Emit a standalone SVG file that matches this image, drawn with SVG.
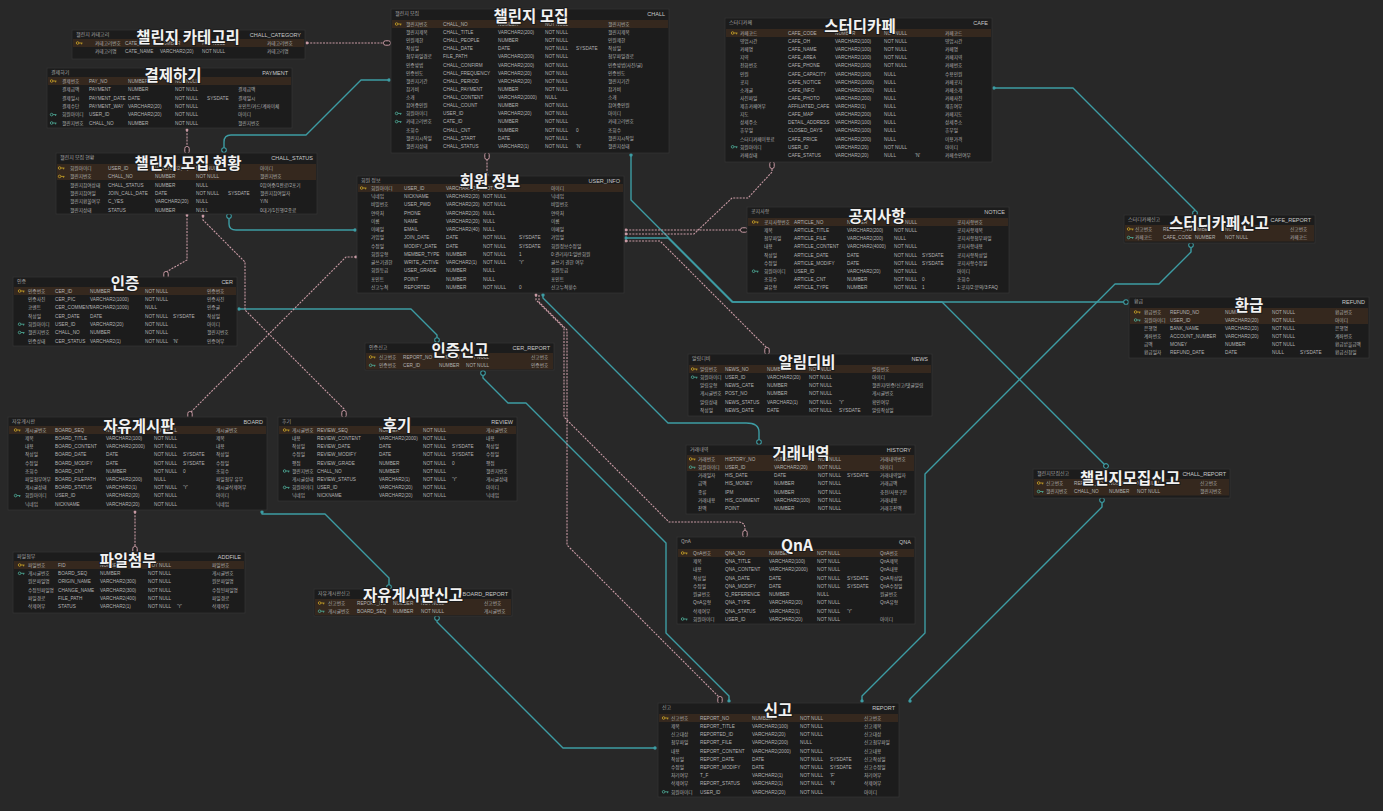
<svg xmlns="http://www.w3.org/2000/svg" xmlns:xlink="http://www.w3.org/1999/xlink" width="1383" height="811" viewBox="0 0 1383 811">
<style>
.tb{fill:#1c1c1c;stroke:#333;stroke-width:.8}
.band{fill:#35281e}
.h{font:5px "Noto Sans CJK KR","Liberation Sans",sans-serif;fill:#a8a8a8}
.hr{font:5.5px "Liberation Sans","Noto Sans CJK KR",sans-serif;fill:#c8c8c8;text-anchor:end}
.r{font:4.7px "Liberation Sans","Noto Sans CJK KR",sans-serif;fill:#b3b3b3}
.ttl{font-family:"Noto Sans CJK KR","Noto Sans",sans-serif;font-size:15.5px;font-weight:bold;fill:#f2f2f2;text-anchor:middle;stroke:#1c1c1c;stroke-width:2.2;paint-order:stroke;stroke-linejoin:round}
.tl{fill:none;stroke:#3d9ca3;stroke-width:1.4;stroke-linejoin:round}
.pl{fill:none;stroke:#c89aa4;stroke-width:1.1;stroke-dasharray:2 1.2}
</style>
<defs>
<marker id="te" markerUnits="userSpaceOnUse" markerWidth="8" markerHeight="8" viewBox="-4 -4 8 8" refX="0" refY="0" orient="auto"><circle r="2.3" fill="#1c1c1c" stroke="#3d9ca3" stroke-width="1.1"/></marker>
<marker id="ts" markerUnits="userSpaceOnUse" markerWidth="6" markerHeight="6" viewBox="-3 -3 6 6" refX="0" refY="0" orient="auto"><circle r="1.7" fill="#3d9ca3"/></marker>
<marker id="pe" markerUnits="userSpaceOnUse" markerWidth="10" markerHeight="8" viewBox="-5 -4 10 8" refX="0" refY="0" orient="auto"><rect x="-3.5" y="-2.2" width="7" height="4.4" rx="2" fill="#1c1c1c" stroke="#c89aa4" stroke-width="1"/></marker>
<marker id="ps" markerUnits="userSpaceOnUse" markerWidth="6" markerHeight="6" viewBox="-3 -3 6 6" refX="0" refY="0" orient="auto"><circle r="1.4" fill="#c89aa4"/></marker>
<g id="pk"><circle cx="1.6" cy="0" r="1.3" fill="none" stroke="#c9a227" stroke-width=".8"/><path d="M2.9 0H6.5M5.6 0V1.4" fill="none" stroke="#c9a227" stroke-width=".8"/></g>
<g id="fk"><circle cx="1.6" cy="0" r="1.3" fill="none" stroke="#4fae9a" stroke-width=".8"/><path d="M2.9 0H6.5M5.6 0V1.4" fill="none" stroke="#4fae9a" stroke-width=".8"/></g>
</defs>
<rect width="1383" height="811" fill="#282828"/>

<g id="connectors">
<path class="tl" marker-start="url(#ts)" marker-end="url(#te)" d="M389,80 H361 L306,135 H231 Q224,135 224,142 V150"/>
<path class="tl" marker-start="url(#te)" marker-end="url(#ts)" d="M229,216 V224 Q229,230 236,230 H355"/>
<path class="tl" marker-start="url(#ts)" marker-end="url(#te)" d="M239,309 H411 L437,335 V340"/>
<path class="tl" marker-start="url(#te)" marker-end="url(#ts)" d="M483,373 V378 L508,403 H526 L666,543 V633 L729,696 V701"/>
<path class="tl" marker-start="url(#ts)" marker-end="url(#te)" d="M543,295 V298 L668,423 H746 Q759,423 759,432 V442"/>
<path class="tl" marker-start="url(#ts)" marker-end="url(#te)" d="M631,155 V200 L733,302 H942 L1106,466"/>
<path class="tl" marker-start="url(#ts)" marker-end="url(#te)" d="M626,238 H668 L732,302 H1126"/>
<path class="tl" marker-start="url(#ts)" marker-end="url(#te)" d="M994,88 H1073 L1195,210 V213"/>
<path class="tl" marker-start="url(#te)" marker-end="url(#ts)" d="M1191,245 V252 L1159,284 H1115 L925,474 V633 L862,696 V701"/>
<path class="tl" marker-start="url(#te)" marker-end="url(#ts)" d="M1102,500 V507 L910,699 V701"/>
<path class="tl" marker-start="url(#ts)" marker-end="url(#te)" d="M262,512 V514 H325 L389,578 V587"/>
<path class="tl" marker-start="url(#te)" marker-end="url(#ts)" d="M437,618 V622 L563,748 H655"/>
<path class="pl" marker-start="url(#ps)" marker-end="url(#pe)" d="M307,43 H387"/>
<path class="pl" marker-start="url(#ps)" marker-end="url(#pe)" d="M187,130 V150"/>
<path class="pl" marker-start="url(#pe)" marker-end="url(#ps)" d="M487,156 V175"/>
<path class="pl" marker-start="url(#ps)" marker-end="url(#pe)" d="M187,215 V260 L166,272 V275"/>
<path class="pl" marker-start="url(#ps)" marker-end="url(#pe)" d="M203,216 V220 L245,262 V310 L344,409 V414"/>
<path class="pl" marker-start="url(#ps)" marker-end="url(#pe)" d="M356,257 H346 L190,413 V415"/>
<path class="pl" marker-start="url(#ps)" marker-end="url(#pe)" d="M135,512 V550"/>
<path class="pl" marker-start="url(#ps)" marker-end="url(#pe)" d="M626,230 H744"/>
<path class="pl" marker-start="url(#ps)" marker-end="url(#pe)" d="M626,234 H694 L732,198 H748 L772,172 V165"/>
<path class="pl" marker-start="url(#ps)" marker-end="url(#pe)" d="M626,241 H660 L767,348 V351"/>
<path class="pl" marker-start="url(#ps)" marker-end="url(#pe)" d="M536,295 V300 L564,328 V417 L669,522 H738 Q745,522 745,529 V534"/>
<path class="pl" marker-end="url(#pe)" d="M539,295 V302 L567,330 V545 L720,698 V700"/>
</g>

<g id="t-chall-category">
<rect class="tb" x="72" y="30" width="233" height="29"/>
<rect class="band" x="73" y="39" width="231" height="8"/>
<text class="h" x="76" y="36">챌린지 카테고리</text>
<text class="hr" x="301" y="36.5">CHALL_CATEGORY</text>
<use href="#pk" x="76" y="43"/>
<text class="r" y="44.8"><tspan x="95">카테고리번호</tspan><tspan x="125">CATE_ID</tspan><tspan x="160">NUMBER</tspan><tspan x="202">NOT NULL</tspan><tspan x="267">카테고리번호</tspan></text>
<text class="r" y="53.3"><tspan x="95">카테고리명</tspan><tspan x="125">CATE_NAME</tspan><tspan x="160">VARCHAR2(20)</tspan><tspan x="202">NOT NULL</tspan><tspan x="267">카테고리명</tspan></text>
<text class="ttl" x="188" y="42.5">챌린지 카테고리</text>
</g>

<g id="t-payment">
<rect class="tb" x="47" y="68" width="245" height="60"/>
<rect class="band" x="48" y="77" width="243" height="8"/>
<text class="h" x="51" y="74">결제하기</text>
<text class="hr" x="288" y="74.5">PAYMENT</text>
<use href="#pk" x="50" y="81"/><use href="#fk" x="50" y="114.6"/><use href="#fk" x="50" y="123"/>
<text class="r" y="82.8"><tspan x="62">결제번호</tspan><tspan x="89">PAY_NO</tspan><tspan x="128">NUMBER</tspan><tspan x="175">NOT NULL</tspan></text>
<text class="r" y="91.2"><tspan x="62">결제금액</tspan><tspan x="89">PAYMENT</tspan><tspan x="128">NUMBER</tspan><tspan x="175">NOT NULL</tspan><tspan x="238">결제금액</tspan></text>
<text class="r" y="99.6"><tspan x="62">결제일시</tspan><tspan x="89">PAYMENT_DATE</tspan><tspan x="128">DATE</tspan><tspan x="175">NOT NULL</tspan><tspan x="207">SYSDATE</tspan><tspan x="238">결제일시</tspan></text>
<text class="r" y="108"><tspan x="62">결제수단</tspan><tspan x="89">PAYMENT_WAY</tspan><tspan x="128">VARCHAR2(20)</tspan><tspan x="175">NOT NULL</tspan><tspan x="238">포인트/카드/계좌이체</tspan></text>
<text class="r" y="116.4"><tspan x="62">회원아이디</tspan><tspan x="89">USER_ID</tspan><tspan x="128">VARCHAR2(20)</tspan><tspan x="175">NOT NULL</tspan><tspan x="238">아이디</tspan></text>
<text class="r" y="124.8"><tspan x="62">챌린지번호</tspan><tspan x="89">CHALL_NO</tspan><tspan x="128">NUMBER</tspan><tspan x="175">NOT NULL</tspan><tspan x="238">챌린지번호</tspan></text>
<text class="ttl" x="173" y="80.5">결제하기</text>
</g>

<g id="t-chall-status">
<rect class="tb" x="56" y="153" width="261" height="61"/>
<rect class="band" x="57" y="164" width="259" height="16"/>
<text class="h" x="60" y="159">챌린지 모집 현황</text>
<text class="hr" x="313" y="159.5">CHALL_STATUS</text>
<use href="#pk" x="58" y="168"/><use href="#pk" x="58" y="176.4"/>
<text class="r" y="169.8"><tspan x="70">회원아이디</tspan><tspan x="108">USER_ID</tspan><tspan x="155">VARCHAR2(20)</tspan><tspan x="196">NOT NULL</tspan><tspan x="260">아이디</tspan></text>
<text class="r" y="178.2"><tspan x="70">챌린지번호</tspan><tspan x="108">CHALL_NO</tspan><tspan x="155">NUMBER</tspan><tspan x="196">NOT NULL</tspan><tspan x="260">챌린지번호</tspan></text>
<text class="r" y="186.6"><tspan x="70">챌린지참여상태</tspan><tspan x="108">CHALL_STATUS</tspan><tspan x="155">NUMBER</tspan><tspan x="196">NULL</tspan><tspan x="260">0참여중/1완료/2포기</tspan></text>
<text class="r" y="195"><tspan x="70">챌린지참여일</tspan><tspan x="108">JOIN_CALL_DATE</tspan><tspan x="155">DATE</tspan><tspan x="196">NOT NULL</tspan><tspan x="228">SYSDATE</tspan><tspan x="260">챌린지참여일자</tspan></text>
<text class="r" y="203.4"><tspan x="70">챌린지환불여부</tspan><tspan x="108">C_YES</tspan><tspan x="155">VARCHAR2(20)</tspan><tspan x="196">NULL</tspan><tspan x="260">Y/N</tspan></text>
<text class="r" y="211.8"><tspan x="70">챌린지상태</tspan><tspan x="108">STATUS</tspan><tspan x="155">NUMBER</tspan><tspan x="196">NULL</tspan><tspan x="260">0대기/1진행/2종료</tspan></text>
<text class="ttl" x="188" y="168.5">챌린지 모집 현황</text>
</g>

<g id="t-chall">
<rect class="tb" x="391" y="9" width="278" height="144"/>
<rect class="band" x="392" y="20" width="276" height="8"/>
<text class="h" x="395" y="15">챌린지 모집</text>
<text class="hr" x="665" y="15.5">CHALL</text>
<use href="#pk" x="395" y="24"/><use href="#fk" x="395" y="113.4"/><use href="#fk" x="395" y="121.6"/>
<text class="r" y="25.8"><tspan x="406">챌린지번호</tspan><tspan x="443">CHALL_NO</tspan><tspan x="498">NUMBER</tspan><tspan x="545">NOT NULL</tspan><tspan x="608">챌린지번호</tspan></text>
<text class="r" y="33.9"><tspan x="406">챌린지제목</tspan><tspan x="443">CHALL_TITLE</tspan><tspan x="498">VARCHAR2(200)</tspan><tspan x="545">NOT NULL</tspan><tspan x="608">챌린지제목</tspan></text>
<text class="r" y="42.1"><tspan x="406">인원제한</tspan><tspan x="443">CHALL_PEOPLE</tspan><tspan x="498">NUMBER</tspan><tspan x="545">NOT NULL</tspan><tspan x="608">인원제한</tspan></text>
<text class="r" y="50.2"><tspan x="406">작성일</tspan><tspan x="443">CHALL_DATE</tspan><tspan x="498">DATE</tspan><tspan x="545">NOT NULL</tspan><tspan x="576">SYSDATE</tspan><tspan x="608">작성일</tspan></text>
<text class="r" y="58.3"><tspan x="406">첨부파일경로</tspan><tspan x="443">FILE_PATH</tspan><tspan x="498">VARCHAR2(200)</tspan><tspan x="545">NOT NULL</tspan><tspan x="608">첨부파일경로</tspan></text>
<text class="r" y="66.5"><tspan x="406">인증방법</tspan><tspan x="443">CHALL_CONFIRM</tspan><tspan x="498">VARCHAR2(200)</tspan><tspan x="545">NOT NULL</tspan><tspan x="608">인증방법(사진/글)</tspan></text>
<text class="r" y="74.6"><tspan x="406">인증빈도</tspan><tspan x="443">CHALL_FREQUENCY</tspan><tspan x="498">VARCHAR2(20)</tspan><tspan x="545">NOT NULL</tspan><tspan x="608">인증빈도</tspan></text>
<text class="r" y="82.7"><tspan x="406">챌린지기간</tspan><tspan x="443">CHALL_PERIOD</tspan><tspan x="498">VARCHAR2(20)</tspan><tspan x="545">NOT NULL</tspan><tspan x="608">챌린지기간</tspan></text>
<text class="r" y="90.8"><tspan x="406">참가비</tspan><tspan x="443">CHALL_PAYMENT</tspan><tspan x="498">NUMBER</tspan><tspan x="545">NOT NULL</tspan><tspan x="608">참가비</tspan></text>
<text class="r" y="99"><tspan x="406">소개</tspan><tspan x="443">CHALL_CONTENT</tspan><tspan x="498">VARCHAR2(2000)</tspan><tspan x="545">NULL</tspan><tspan x="608">소개</tspan></text>
<text class="r" y="107.1"><tspan x="406">참여중인원</tspan><tspan x="443">CHALL_COUNT</tspan><tspan x="498">NUMBER</tspan><tspan x="545">NOT NULL</tspan><tspan x="608">참여중인원</tspan></text>
<text class="r" y="115.2"><tspan x="406">회원아이디</tspan><tspan x="443">USER_ID</tspan><tspan x="498">VARCHAR2(20)</tspan><tspan x="545">NOT NULL</tspan><tspan x="608">아이디</tspan></text>
<text class="r" y="123.4"><tspan x="406">카테고리번호</tspan><tspan x="443">CATE_ID</tspan><tspan x="498">NUMBER</tspan><tspan x="545">NOT NULL</tspan><tspan x="608">카테고리번호</tspan></text>
<text class="r" y="131.5"><tspan x="406">조회수</tspan><tspan x="443">CHALL_CNT</tspan><tspan x="498">NUMBER</tspan><tspan x="545">NOT NULL</tspan><tspan x="576">0</tspan><tspan x="608">조회수</tspan></text>
<text class="r" y="139.6"><tspan x="406">챌린지시작일</tspan><tspan x="443">CHALL_START</tspan><tspan x="498">DATE</tspan><tspan x="545">NOT NULL</tspan><tspan x="608">챌린지시작일</tspan></text>
<text class="r" y="147.8"><tspan x="406">챌린지상태</tspan><tspan x="443">CHALL_STATUS</tspan><tspan x="498">VARCHAR2(1)</tspan><tspan x="545">NOT NULL</tspan><tspan x="576">'N'</tspan><tspan x="608">챌린지상태</tspan></text>
<text class="ttl" x="531" y="21.5">챌린지 모집</text>
</g>

<g id="t-user-info">
<rect class="tb" x="357" y="176" width="267" height="117"/>
<rect class="band" x="358" y="184" width="265" height="8"/>
<text class="h" x="361" y="182">회원 정보</text>
<text class="hr" x="620" y="182.5">USER_INFO</text>
<use href="#pk" x="360" y="188"/>
<text class="r" y="189.8"><tspan x="371">회원아이디</tspan><tspan x="404">USER_ID</tspan><tspan x="446">VARCHAR2(20)</tspan><tspan x="483">NOT NULL</tspan><tspan x="551">아이디</tspan></text>
<text class="r" y="198.05"><tspan x="371">닉네임</tspan><tspan x="404">NICKNAME</tspan><tspan x="446">VARCHAR2(20)</tspan><tspan x="483">NOT NULL</tspan><tspan x="551">닉네임</tspan></text>
<text class="r" y="206.3"><tspan x="371">비밀번호</tspan><tspan x="404">USER_PWD</tspan><tspan x="446">VARCHAR2(20)</tspan><tspan x="483">NOT NULL</tspan><tspan x="551">비밀번호</tspan></text>
<text class="r" y="214.55"><tspan x="371">연락처</tspan><tspan x="404">PHONE</tspan><tspan x="446">VARCHAR2(20)</tspan><tspan x="483">NULL</tspan><tspan x="551">연락처</tspan></text>
<text class="r" y="222.8"><tspan x="371">이름</tspan><tspan x="404">NAME</tspan><tspan x="446">VARCHAR2(20)</tspan><tspan x="483">NULL</tspan><tspan x="551">이름</tspan></text>
<text class="r" y="231.05"><tspan x="371">이메일</tspan><tspan x="404">EMAIL</tspan><tspan x="446">VARCHAR2(40)</tspan><tspan x="483">NULL</tspan><tspan x="551">이메일</tspan></text>
<text class="r" y="239.3"><tspan x="371">가입일</tspan><tspan x="404">JOIN_DATE</tspan><tspan x="446">DATE</tspan><tspan x="483">NOT NULL</tspan><tspan x="519">SYSDATE</tspan><tspan x="551">가입일</tspan></text>
<text class="r" y="247.55"><tspan x="371">수정일</tspan><tspan x="404">MODIFY_DATE</tspan><tspan x="446">DATE</tspan><tspan x="483">NOT NULL</tspan><tspan x="519">SYSDATE</tspan><tspan x="551">회원정보수정일</tspan></text>
<text class="r" y="255.8"><tspan x="371">회원유형</tspan><tspan x="404">MEMBER_TYPE</tspan><tspan x="446">NUMBER</tspan><tspan x="483">NOT NULL</tspan><tspan x="519">1</tspan><tspan x="551">0:관리자/1:일반회원</tspan></text>
<text class="r" y="264.05"><tspan x="371">글쓰기권한</tspan><tspan x="404">WRITE_ACTIVE</tspan><tspan x="446">VARCHAR2(1)</tspan><tspan x="483">NOT NULL</tspan><tspan x="519">'Y'</tspan><tspan x="551">글쓰기 권한 여부</tspan></text>
<text class="r" y="272.3"><tspan x="371">회원등급</tspan><tspan x="404">USER_GRADE</tspan><tspan x="446">NUMBER</tspan><tspan x="483">NULL</tspan><tspan x="551">회원등급</tspan></text>
<text class="r" y="280.55"><tspan x="371">포인트</tspan><tspan x="404">POINT</tspan><tspan x="446">NUMBER</tspan><tspan x="483">NULL</tspan><tspan x="551">포인트</tspan></text>
<text class="r" y="288.8"><tspan x="371">신고누적</tspan><tspan x="404">REPORTED</tspan><tspan x="446">NUMBER</tspan><tspan x="483">NOT NULL</tspan><tspan x="519">0</tspan><tspan x="551">신고누적횟수</tspan></text>
<text class="ttl" x="490" y="186.5">회원 정보</text>
</g>

<g id="t-cafe">
<rect class="tb" x="725" y="18" width="267" height="144"/>
<rect class="band" x="726" y="29" width="265" height="8"/>
<text class="h" x="729" y="24">스터디카페</text>
<text class="hr" x="988" y="24.5">CAFE</text>
<use href="#pk" x="731" y="33"/><use href="#fk" x="731" y="146.8"/>
<text class="r" y="34.8"><tspan x="740">카페코드</tspan><tspan x="788">CAFE_CODE</tspan><tspan x="835">NUMBER</tspan><tspan x="884">NOT NULL</tspan><tspan x="945">카페코드</tspan></text>
<text class="r" y="42.9"><tspan x="740">영업시간</tspan><tspan x="788">CAFE_OH</tspan><tspan x="835">VARCHAR2(100)</tspan><tspan x="884">NOT NULL</tspan><tspan x="945">영업시간</tspan></text>
<text class="r" y="51.1"><tspan x="740">카페명</tspan><tspan x="788">CAFE_NAME</tspan><tspan x="835">VARCHAR2(100)</tspan><tspan x="884">NOT NULL</tspan><tspan x="945">카페명</tspan></text>
<text class="r" y="59.2"><tspan x="740">지역</tspan><tspan x="788">CAFE_AREA</tspan><tspan x="835">VARCHAR2(100)</tspan><tspan x="884">NOT NULL</tspan><tspan x="945">카페지역</tspan></text>
<text class="r" y="67.3"><tspan x="740">전화번호</tspan><tspan x="788">CAFE_PHONE</tspan><tspan x="835">VARCHAR2(100)</tspan><tspan x="884">NOT NULL</tspan><tspan x="945">카페번호</tspan></text>
<text class="r" y="75.5"><tspan x="740">인원</tspan><tspan x="788">CAFE_CAPACITY</tspan><tspan x="835">VARCHAR2(100)</tspan><tspan x="884">NULL</tspan><tspan x="945">수용인원</tspan></text>
<text class="r" y="83.6"><tspan x="740">공지</tspan><tspan x="788">CAFE_NOTICE</tspan><tspan x="835">VARCHAR2(1000)</tspan><tspan x="884">NULL</tspan><tspan x="945">카페공지</tspan></text>
<text class="r" y="91.7"><tspan x="740">소개글</tspan><tspan x="788">CAFE_INFO</tspan><tspan x="835">VARCHAR2(1000)</tspan><tspan x="884">NULL</tspan><tspan x="945">카페소개</tspan></text>
<text class="r" y="99.8"><tspan x="740">사진파일</tspan><tspan x="788">CAFE_PHOTO</tspan><tspan x="835">VARCHAR2(200)</tspan><tspan x="884">NULL</tspan><tspan x="945">카페사진</tspan></text>
<text class="r" y="108"><tspan x="740">제휴카페여부</tspan><tspan x="788">AFFILIATED_CAFE</tspan><tspan x="835">VARCHAR2(1)</tspan><tspan x="884">NULL</tspan><tspan x="945">제휴여부</tspan></text>
<text class="r" y="116.1"><tspan x="740">지도</tspan><tspan x="788">CAFE_MAP</tspan><tspan x="835">VARCHAR2(200)</tspan><tspan x="884">NULL</tspan><tspan x="945">카페지도</tspan></text>
<text class="r" y="124.2"><tspan x="740">상세주소</tspan><tspan x="788">DETAIL_ADDRESS</tspan><tspan x="835">VARCHAR2(100)</tspan><tspan x="884">NULL</tspan><tspan x="945">상세주소</tspan></text>
<text class="r" y="132.4"><tspan x="740">휴무일</tspan><tspan x="788">CLOSED_DAYS</tspan><tspan x="835">VARCHAR2(100)</tspan><tspan x="884">NULL</tspan><tspan x="945">휴무일</tspan></text>
<text class="r" y="140.5"><tspan x="740">스터디카페이용료</tspan><tspan x="788">CAFE_PRICE</tspan><tspan x="835">VARCHAR2(200)</tspan><tspan x="884">NULL</tspan><tspan x="945">이용가격</tspan></text>
<text class="r" y="148.6"><tspan x="740">회원아이디</tspan><tspan x="788">USER_ID</tspan><tspan x="835">VARCHAR2(20)</tspan><tspan x="884">NOT NULL</tspan><tspan x="945">아이디</tspan></text>
<text class="r" y="156.8"><tspan x="740">카페상태</tspan><tspan x="788">CAFE_STATUS</tspan><tspan x="835">VARCHAR2(20)</tspan><tspan x="884">NULL</tspan><tspan x="915">'N'</tspan><tspan x="945">카페승인여부</tspan></text>
<text class="ttl" x="860" y="31.5">스터디카페</text>
</g>

<g id="t-notice">
<rect class="tb" x="747" y="207" width="262" height="86"/>
<rect class="band" x="748" y="218" width="260" height="8"/>
<text class="h" x="751" y="213">공지사항</text>
<text class="hr" x="1005" y="213.5">NOTICE</text>
<use href="#pk" x="752" y="222"/><use href="#fk" x="752" y="271.2"/>
<text class="r" y="223.8"><tspan x="764">공지사항번호</tspan><tspan x="794">ARTICLE_NO</tspan><tspan x="847">NUMBER</tspan><tspan x="894">NOT NULL</tspan><tspan x="957">공지사항번호</tspan></text>
<text class="r" y="232"><tspan x="764">제목</tspan><tspan x="794">ARTICLE_TITLE</tspan><tspan x="847">VARCHAR2(200)</tspan><tspan x="894">NOT NULL</tspan><tspan x="957">공지사항제목</tspan></text>
<text class="r" y="240.2"><tspan x="764">첨부파일</tspan><tspan x="794">ARTICLE_FILE</tspan><tspan x="847">VARCHAR2(200)</tspan><tspan x="894">NULL</tspan><tspan x="957">공지사항첨부파일</tspan></text>
<text class="r" y="248.4"><tspan x="764">내용</tspan><tspan x="794">ARTICLE_CONTENT</tspan><tspan x="847">VARCHAR2(4000)</tspan><tspan x="894">NOT NULL</tspan><tspan x="957">공지사항내용</tspan></text>
<text class="r" y="256.6"><tspan x="764">작성일</tspan><tspan x="794">ARTICLE_DATE</tspan><tspan x="847">DATE</tspan><tspan x="894">NOT NULL</tspan><tspan x="922">SYSDATE</tspan><tspan x="957">공지사항작성일</tspan></text>
<text class="r" y="264.8"><tspan x="764">수정일</tspan><tspan x="794">ARTICLE_MODIFY</tspan><tspan x="847">DATE</tspan><tspan x="894">NOT NULL</tspan><tspan x="922">SYSDATE</tspan><tspan x="957">공지사항수정일</tspan></text>
<text class="r" y="273"><tspan x="764">회원아이디</tspan><tspan x="794">USER_ID</tspan><tspan x="847">VARCHAR2(20)</tspan><tspan x="894">NOT NULL</tspan><tspan x="957">아이디</tspan></text>
<text class="r" y="281.2"><tspan x="764">조회수</tspan><tspan x="794">ARTICLE_CNT</tspan><tspan x="847">NUMBER</tspan><tspan x="894">NOT NULL</tspan><tspan x="922">0</tspan><tspan x="957">조회수</tspan></text>
<text class="r" y="289.4"><tspan x="764">글유형</tspan><tspan x="794">ARTICLE_TYPE</tspan><tspan x="847">NUMBER</tspan><tspan x="894">NOT NULL</tspan><tspan x="922">1</tspan><tspan x="957">1:공지/2:문의/3:FAQ</tspan></text>
<text class="ttl" x="877" y="221.5">공지사항</text>
</g>

<g id="t-cafe-report">
<rect class="tb" x="1124" y="215" width="191" height="28"/>
<rect class="band" x="1125" y="225" width="189" height="16.5"/>
<text class="h" x="1128" y="221">스터디카페신고</text>
<text class="hr" x="1311" y="221.5">CAFE_REPORT</text>
<use href="#pk" x="1127" y="229"/><use href="#fk" x="1127" y="237.5"/>
<text class="r" y="230.8"><tspan x="1135">신고번호</tspan><tspan x="1163">REPORT_NO</tspan><tspan x="1191">NUMBER</tspan><tspan x="1225">NOT NULL</tspan><tspan x="1290">신고번호</tspan></text>
<text class="r" y="239.3"><tspan x="1135">카페코드</tspan><tspan x="1163">CAFE_CODE</tspan><tspan x="1195">NUMBER</tspan><tspan x="1225">NOT NULL</tspan><tspan x="1290">카페코드</tspan></text>
<text class="ttl" x="1219" y="228.5">스터디카페신고</text>
</g>

<g id="t-refund">
<rect class="tb" x="1129" y="297" width="240" height="61"/>
<rect class="band" x="1130" y="308" width="238" height="16"/>
<text class="h" x="1134" y="303">환급</text>
<text class="hr" x="1365" y="303.5">REFUND</text>
<use href="#pk" x="1134" y="312"/><use href="#fk" x="1134" y="320"/>
<text class="r" y="313.8"><tspan x="1144">환급번호</tspan><tspan x="1170">REFUND_NO</tspan><tspan x="1225">NUMBER</tspan><tspan x="1272">NOT NULL</tspan><tspan x="1335">환급번호</tspan></text>
<text class="r" y="321.8"><tspan x="1144">회원아이디</tspan><tspan x="1170">USER_ID</tspan><tspan x="1225">VARCHAR2(20)</tspan><tspan x="1272">NOT NULL</tspan><tspan x="1335">아이디</tspan></text>
<text class="r" y="329.8"><tspan x="1144">은행명</tspan><tspan x="1170">BANK_NAME</tspan><tspan x="1225">VARCHAR2(20)</tspan><tspan x="1272">NOT NULL</tspan><tspan x="1335">은행명</tspan></text>
<text class="r" y="337.8"><tspan x="1144">계좌번호</tspan><tspan x="1170">ACCOUNT_NUMBER</tspan><tspan x="1225">VARCHAR2(20)</tspan><tspan x="1272">NOT NULL</tspan><tspan x="1335">계좌번호</tspan></text>
<text class="r" y="345.8"><tspan x="1144">금액</tspan><tspan x="1170">MONEY</tspan><tspan x="1225">NUMBER</tspan><tspan x="1272">NOT NULL</tspan><tspan x="1335">환급받을금액</tspan></text>
<text class="r" y="353.8"><tspan x="1144">환급일자</tspan><tspan x="1170">REFUND_DATE</tspan><tspan x="1225">DATE</tspan><tspan x="1272">NULL</tspan><tspan x="1300">SYSDATE</tspan><tspan x="1335">환급신청일</tspan></text>
<text class="ttl" x="1249" y="310.5">환급</text>
</g>

<g id="t-cer">
<rect class="tb" x="13" y="277" width="224" height="69"/>
<rect class="band" x="14" y="287" width="222" height="8"/>
<text class="h" x="17" y="283">인증</text>
<text class="hr" x="233" y="283.5">CER</text>
<use href="#pk" x="18" y="291"/><use href="#fk" x="18" y="324.2"/><use href="#fk" x="18" y="332.5"/>
<text class="r" y="292.8"><tspan x="28">인증번호</tspan><tspan x="55">CER_ID</tspan><tspan x="90">NUMBER</tspan><tspan x="145">NOT NULL</tspan><tspan x="207">인증번호</tspan></text>
<text class="r" y="301.1"><tspan x="28">인증사진</tspan><tspan x="55">CER_PIC</tspan><tspan x="90">VARCHAR2(1000)</tspan><tspan x="145">NOT NULL</tspan><tspan x="207">인증사진</tspan></text>
<text class="r" y="309.4"><tspan x="28">코멘트</tspan><tspan x="55">CER_COMMENT</tspan><tspan x="90">VARCHAR2(1000)</tspan><tspan x="145">NULL</tspan><tspan x="207">인증글</tspan></text>
<text class="r" y="317.7"><tspan x="28">작성일</tspan><tspan x="55">CER_DATE</tspan><tspan x="90">DATE</tspan><tspan x="145">NOT NULL</tspan><tspan x="173">SYSDATE</tspan><tspan x="207">작성일</tspan></text>
<text class="r" y="326"><tspan x="28">회원아이디</tspan><tspan x="55">USER_ID</tspan><tspan x="90">VARCHAR2(20)</tspan><tspan x="145">NOT NULL</tspan><tspan x="207">아이디</tspan></text>
<text class="r" y="334.3"><tspan x="28">챌린지번호</tspan><tspan x="55">CHALL_NO</tspan><tspan x="90">NUMBER</tspan><tspan x="145">NOT NULL</tspan><tspan x="207">챌린지번호</tspan></text>
<text class="r" y="342.6"><tspan x="28">인증상태</tspan><tspan x="55">CER_STATUS</tspan><tspan x="90">VARCHAR2(1)</tspan><tspan x="145">NOT NULL</tspan><tspan x="173">'N'</tspan><tspan x="207">인증여부</tspan></text>
<text class="ttl" x="125" y="288.5">인증</text>
</g>

<g id="t-board">
<rect class="tb" x="8" y="417" width="259" height="93"/>
<rect class="band" x="9" y="426" width="257" height="8"/>
<text class="h" x="12" y="423">자유게시판</text>
<text class="hr" x="263" y="423.5">BOARD</text>
<use href="#pk" x="14" y="430"/><use href="#fk" x="14" y="495.6"/>
<text class="r" y="431.8"><tspan x="25">게시글번호</tspan><tspan x="55">BOARD_SEQ</tspan><tspan x="106">NUMBER</tspan><tspan x="154">NOT NULL</tspan><tspan x="216">게시글번호</tspan></text>
<text class="r" y="440"><tspan x="25">제목</tspan><tspan x="55">BOARD_TITLE</tspan><tspan x="106">VARCHAR2(100)</tspan><tspan x="154">NOT NULL</tspan><tspan x="216">제목</tspan></text>
<text class="r" y="448.2"><tspan x="25">내용</tspan><tspan x="55">BOARD_CONTENT</tspan><tspan x="106">VARCHAR2(2000)</tspan><tspan x="154">NOT NULL</tspan><tspan x="216">내용</tspan></text>
<text class="r" y="456.4"><tspan x="25">작성일</tspan><tspan x="55">BOARD_DATE</tspan><tspan x="106">DATE</tspan><tspan x="154">NOT NULL</tspan><tspan x="183">SYSDATE</tspan><tspan x="216">작성일</tspan></text>
<text class="r" y="464.6"><tspan x="25">수정일</tspan><tspan x="55">BOARD_MODIFY</tspan><tspan x="106">DATE</tspan><tspan x="154">NOT NULL</tspan><tspan x="183">SYSDATE</tspan><tspan x="216">수정일</tspan></text>
<text class="r" y="472.8"><tspan x="25">조회수</tspan><tspan x="55">BOARD_CNT</tspan><tspan x="106">NUMBER</tspan><tspan x="154">NOT NULL</tspan><tspan x="183">0</tspan><tspan x="216">조회수</tspan></text>
<text class="r" y="481"><tspan x="25">파일첨부여부</tspan><tspan x="55">BOARD_FILEPATH</tspan><tspan x="106">VARCHAR2(200)</tspan><tspan x="154">NULL</tspan><tspan x="216">파일첨부 유무</tspan></text>
<text class="r" y="489.2"><tspan x="25">게시글상태</tspan><tspan x="55">BOARD_STATUS</tspan><tspan x="106">VARCHAR2(1)</tspan><tspan x="154">NOT NULL</tspan><tspan x="183">'Y'</tspan><tspan x="216">게시글삭제여부</tspan></text>
<text class="r" y="497.4"><tspan x="25">회원아이디</tspan><tspan x="55">USER_ID</tspan><tspan x="106">VARCHAR2(20)</tspan><tspan x="154">NOT NULL</tspan><tspan x="216">아이디</tspan></text>
<text class="r" y="505.6"><tspan x="25">닉네임</tspan><tspan x="55">NICKNAME</tspan><tspan x="106">VARCHAR2(20)</tspan><tspan x="154">NOT NULL</tspan><tspan x="216">닉네임</tspan></text>
<text class="ttl" x="139" y="431.5">자유게시판</text>
</g>

<g id="t-review">
<rect class="tb" x="278" y="417" width="239" height="84"/>
<rect class="band" x="279" y="426" width="237" height="8"/>
<text class="h" x="282" y="423">후기</text>
<text class="hr" x="513" y="423.5">REVIEW</text>
<use href="#pk" x="283" y="430"/><use href="#fk" x="283" y="471"/><use href="#fk" x="283" y="487.4"/>
<text class="r" y="431.8"><tspan x="292">게시글번호</tspan><tspan x="317">REVIEW_SEQ</tspan><tspan x="379">NUMBER</tspan><tspan x="423">NOT NULL</tspan><tspan x="486">게시글번호</tspan></text>
<text class="r" y="440"><tspan x="292">내용</tspan><tspan x="317">REVIEW_CONTENT</tspan><tspan x="379">VARCHAR2(2000)</tspan><tspan x="423">NOT NULL</tspan><tspan x="486">내용</tspan></text>
<text class="r" y="448.2"><tspan x="292">작성일</tspan><tspan x="317">REVIEW_DATE</tspan><tspan x="379">DATE</tspan><tspan x="423">NOT NULL</tspan><tspan x="452">SYSDATE</tspan><tspan x="486">작성일</tspan></text>
<text class="r" y="456.4"><tspan x="292">수정일</tspan><tspan x="317">REVIEW_MODIFY</tspan><tspan x="379">DATE</tspan><tspan x="423">NOT NULL</tspan><tspan x="452">SYSDATE</tspan><tspan x="486">수정일</tspan></text>
<text class="r" y="464.6"><tspan x="292">평점</tspan><tspan x="317">REVIEW_GRADE</tspan><tspan x="379">NUMBER</tspan><tspan x="423">NOT NULL</tspan><tspan x="452">0</tspan><tspan x="486">평점</tspan></text>
<text class="r" y="472.8"><tspan x="292">챌린지번호</tspan><tspan x="317">CHALL_NO</tspan><tspan x="379">NUMBER</tspan><tspan x="423">NOT NULL</tspan><tspan x="486">챌린지번호</tspan></text>
<text class="r" y="481"><tspan x="292">게시글상태</tspan><tspan x="317">REVIEW_STATUS</tspan><tspan x="379">VARCHAR2(1)</tspan><tspan x="423">NOT NULL</tspan><tspan x="452">'Y'</tspan><tspan x="486">게시글상태</tspan></text>
<text class="r" y="489.2"><tspan x="292">회원아이디</tspan><tspan x="317">USER_ID</tspan><tspan x="379">VARCHAR2(20)</tspan><tspan x="423">NOT NULL</tspan><tspan x="486">아이디</tspan></text>
<text class="r" y="497.4"><tspan x="292">닉네임</tspan><tspan x="317">NICKNAME</tspan><tspan x="379">VARCHAR2(20)</tspan><tspan x="423">NOT NULL</tspan><tspan x="486">닉네임</tspan></text>
<text class="ttl" x="397" y="430.5">후기</text>
</g>

<g id="t-cer-report">
<rect class="tb" x="365" y="343" width="189" height="27"/>
<rect class="band" x="366" y="353" width="187" height="16.3"/>
<text class="h" x="369" y="349">인증신고</text>
<text class="hr" x="550" y="349.5">CER_REPORT</text>
<use href="#pk" x="369" y="357"/><use href="#fk" x="369" y="365.3"/>
<text class="r" y="358.8"><tspan x="379">신고번호</tspan><tspan x="403">REPORT_NO</tspan><tspan x="439">NUMBER</tspan><tspan x="466">NOT NULL</tspan><tspan x="531">신고번호</tspan></text>
<text class="r" y="367.1"><tspan x="379">인증번호</tspan><tspan x="403">CER_ID</tspan><tspan x="439">NUMBER</tspan><tspan x="466">NOT NULL</tspan><tspan x="531">인증번호</tspan></text>
<text class="ttl" x="460" y="355.5">인증신고</text>
</g>

<g id="t-news">
<rect class="tb" x="688" y="354" width="244" height="62"/>
<rect class="band" x="689" y="365" width="242" height="8"/>
<text class="h" x="692" y="360">알림디비</text>
<text class="hr" x="928" y="360.5">NEWS</text>
<use href="#pk" x="691" y="369"/><use href="#fk" x="691" y="377.2"/>
<text class="r" y="370.8"><tspan x="700">알림번호</tspan><tspan x="725">NEWS_NO</tspan><tspan x="767">NUMBER</tspan><tspan x="809">NOT NULL</tspan><tspan x="872">알림번호</tspan></text>
<text class="r" y="379"><tspan x="700">회원아이디</tspan><tspan x="725">USER_ID</tspan><tspan x="767">VARCHAR2(20)</tspan><tspan x="809">NOT NULL</tspan><tspan x="872">아이디</tspan></text>
<text class="r" y="387.2"><tspan x="700">알림유형</tspan><tspan x="725">NEWS_CATE</tspan><tspan x="767">NUMBER</tspan><tspan x="809">NOT NULL</tspan><tspan x="872">챌린지/인증/신고/댓글알림</tspan></text>
<text class="r" y="395.4"><tspan x="700">게시글번호</tspan><tspan x="725">POST_NO</tspan><tspan x="767">NUMBER</tspan><tspan x="809">NOT NULL</tspan><tspan x="872">게시글번호</tspan></text>
<text class="r" y="403.6"><tspan x="700">알림상태</tspan><tspan x="725">NEWS_STATUS</tspan><tspan x="767">VARCHAR2(1)</tspan><tspan x="809">NOT NULL</tspan><tspan x="839">'Y'</tspan><tspan x="872">확인여부</tspan></text>
<text class="r" y="411.8"><tspan x="700">작성일</tspan><tspan x="725">NEWS_DATE</tspan><tspan x="767">DATE</tspan><tspan x="809">NOT NULL</tspan><tspan x="839">SYSDATE</tspan><tspan x="872">알림작성일</tspan></text>
<text class="ttl" x="807" y="367.5">알림디비</text>
</g>

<g id="t-history">
<rect class="tb" x="686" y="445" width="229" height="69"/>
<rect class="band" x="687" y="455" width="227" height="16"/>
<text class="h" x="690" y="451">거래내역</text>
<text class="hr" x="911" y="451.5">HISTORY</text>
<use href="#pk" x="689" y="459"/><use href="#fk" x="689" y="467.2"/>
<text class="r" y="460.8"><tspan x="698">거래번호</tspan><tspan x="725">HISTORY_NO</tspan><tspan x="774">NUMBER</tspan><tspan x="818">NOT NULL</tspan><tspan x="880">거래내역번호</tspan></text>
<text class="r" y="469"><tspan x="698">회원아이디</tspan><tspan x="725">USER_ID</tspan><tspan x="774">VARCHAR2(20)</tspan><tspan x="818">NOT NULL</tspan><tspan x="880">아이디</tspan></text>
<text class="r" y="477.2"><tspan x="698">거래일자</tspan><tspan x="725">HIS_DATE</tspan><tspan x="774">DATE</tspan><tspan x="818">NOT NULL</tspan><tspan x="847">SYSDATE</tspan><tspan x="880">거래내역일자</tspan></text>
<text class="r" y="485.4"><tspan x="698">금액</tspan><tspan x="725">HIS_MONEY</tspan><tspan x="774">NUMBER</tspan><tspan x="818">NOT NULL</tspan><tspan x="880">거래금액</tspan></text>
<text class="r" y="493.6"><tspan x="698">종류</tspan><tspan x="725">IPM</tspan><tspan x="774">NUMBER</tspan><tspan x="818">NOT NULL</tspan><tspan x="880">충전/사용구분</tspan></text>
<text class="r" y="501.8"><tspan x="698">거래내용</tspan><tspan x="725">HIS_COMMENT</tspan><tspan x="774">VARCHAR2(100)</tspan><tspan x="818">NOT NULL</tspan><tspan x="880">거래내용</tspan></text>
<text class="r" y="510"><tspan x="698">잔액</tspan><tspan x="725">POINT</tspan><tspan x="774">NUMBER</tspan><tspan x="818">NOT NULL</tspan><tspan x="880">거래후잔액</tspan></text>
<text class="ttl" x="801" y="458.5">거래내역</text>
</g>

<g id="t-chall-report">
<rect class="tb" x="1033" y="469" width="197" height="29"/>
<rect class="band" x="1034" y="479" width="195" height="16.5"/>
<text class="h" x="1037" y="475">챌린지모집신고</text>
<text class="hr" x="1226" y="475.5">CHALL_REPORT</text>
<use href="#pk" x="1037" y="483"/><use href="#fk" x="1037" y="491.5"/>
<text class="r" y="484.8"><tspan x="1046">신고번호</tspan><tspan x="1074">REPORT_NO</tspan><tspan x="1109">NUMBER</tspan><tspan x="1137">NOT NULL</tspan><tspan x="1200">신고번호</tspan></text>
<text class="r" y="493.3"><tspan x="1046">챌린지번호</tspan><tspan x="1074">CHALL_NO</tspan><tspan x="1109">NUMBER</tspan><tspan x="1137">NOT NULL</tspan><tspan x="1200">챌린지번호</tspan></text>
<text class="ttl" x="1130" y="483.5">챌린지모집신고</text>
</g>

<g id="t-qna">
<rect class="tb" x="677" y="537" width="238" height="87"/>
<rect class="band" x="678" y="549" width="236" height="8"/>
<text class="h" x="681" y="543">QnA</text>
<text class="hr" x="911" y="543.5">QNA</text>
<use href="#pk" x="681" y="553"/><use href="#fk" x="681" y="619"/>
<text class="r" y="554.8"><tspan x="693">QnA번호</tspan><tspan x="725">QNA_NO</tspan><tspan x="769">NUMBER</tspan><tspan x="817">NOT NULL</tspan><tspan x="880">QnA번호</tspan></text>
<text class="r" y="563.05"><tspan x="693">제목</tspan><tspan x="725">QNA_TITLE</tspan><tspan x="769">VARCHAR2(100)</tspan><tspan x="817">NOT NULL</tspan><tspan x="880">QnA제목</tspan></text>
<text class="r" y="571.3"><tspan x="693">내용</tspan><tspan x="725">QNA_CONTENT</tspan><tspan x="769">VARCHAR2(2000)</tspan><tspan x="817">NOT NULL</tspan><tspan x="880">QnA내용</tspan></text>
<text class="r" y="579.55"><tspan x="693">작성일</tspan><tspan x="725">QNA_DATE</tspan><tspan x="769">DATE</tspan><tspan x="817">NOT NULL</tspan><tspan x="847">SYSDATE</tspan><tspan x="880">QnA작성일</tspan></text>
<text class="r" y="587.8"><tspan x="693">수정일</tspan><tspan x="725">QNA_MODIFY</tspan><tspan x="769">DATE</tspan><tspan x="817">NOT NULL</tspan><tspan x="847">SYSDATE</tspan><tspan x="880">QnA수정일</tspan></text>
<text class="r" y="596.05"><tspan x="693">원글번호</tspan><tspan x="725">Q_REFERENCE</tspan><tspan x="769">NUMBER</tspan><tspan x="817">NULL</tspan><tspan x="880">원글번호</tspan></text>
<text class="r" y="604.3"><tspan x="693">QnA유형</tspan><tspan x="725">QNA_TYPE</tspan><tspan x="769">VARCHAR2(20)</tspan><tspan x="817">NOT NULL</tspan><tspan x="880">QnA유형</tspan></text>
<text class="r" y="612.55"><tspan x="693">삭제여부</tspan><tspan x="725">QNA_STATUS</tspan><tspan x="769">VARCHAR2(1)</tspan><tspan x="817">NOT NULL</tspan><tspan x="847">'Y'</tspan></text>
<text class="r" y="620.8"><tspan x="693">회원아이디</tspan><tspan x="725">USER_ID</tspan><tspan x="769">VARCHAR2(20)</tspan><tspan x="817">NOT NULL</tspan><tspan x="880">아이디</tspan></text>
<text class="ttl" x="797" y="551">QnA</text>
</g>

<g id="t-report">
<rect class="tb" x="658" y="703" width="241" height="94"/>
<rect class="band" x="659" y="714" width="239" height="8"/>
<text class="h" x="662" y="709">신고</text>
<text class="hr" x="895" y="709.5">REPORT</text>
<use href="#pk" x="662" y="718"/><use href="#fk" x="662" y="791.8"/>
<text class="r" y="719.8"><tspan x="671">신고번호</tspan><tspan x="700">REPORT_NO</tspan><tspan x="752">NUMBER</tspan><tspan x="800">NOT NULL</tspan><tspan x="864">신고번호</tspan></text>
<text class="r" y="728"><tspan x="671">제목</tspan><tspan x="700">REPORT_TITLE</tspan><tspan x="752">VARCHAR2(100)</tspan><tspan x="800">NOT NULL</tspan><tspan x="864">신고제목</tspan></text>
<text class="r" y="736.2"><tspan x="671">신고대상</tspan><tspan x="700">REPORTED_ID</tspan><tspan x="752">VARCHAR2(20)</tspan><tspan x="800">NOT NULL</tspan><tspan x="864">신고대상</tspan></text>
<text class="r" y="744.4"><tspan x="671">첨부파일</tspan><tspan x="700">REPORT_FILE</tspan><tspan x="752">VARCHAR2(200)</tspan><tspan x="800">NULL</tspan><tspan x="864">신고첨부파일</tspan></text>
<text class="r" y="752.6"><tspan x="671">내용</tspan><tspan x="700">REPORT_CONTENT</tspan><tspan x="752">VARCHAR2(2000)</tspan><tspan x="800">NOT NULL</tspan><tspan x="864">신고내용</tspan></text>
<text class="r" y="760.8"><tspan x="671">작성일</tspan><tspan x="700">REPORT_DATE</tspan><tspan x="752">DATE</tspan><tspan x="800">NOT NULL</tspan><tspan x="830">SYSDATE</tspan><tspan x="864">신고작성일</tspan></text>
<text class="r" y="769"><tspan x="671">수정일</tspan><tspan x="700">REPORT_MODIFY</tspan><tspan x="752">DATE</tspan><tspan x="800">NOT NULL</tspan><tspan x="830">SYSDATE</tspan><tspan x="864">신고수정일</tspan></text>
<text class="r" y="777.2"><tspan x="671">처리여부</tspan><tspan x="700">T_F</tspan><tspan x="752">VARCHAR2(1)</tspan><tspan x="800">NOT NULL</tspan><tspan x="830">'F'</tspan><tspan x="864">처리여부</tspan></text>
<text class="r" y="785.4"><tspan x="671">삭제여부</tspan><tspan x="700">REPORT_STATUS</tspan><tspan x="752">VARCHAR2(1)</tspan><tspan x="800">NOT NULL</tspan><tspan x="830">'N'</tspan><tspan x="864">삭제여부</tspan></text>
<text class="r" y="793.6"><tspan x="671">회원아이디</tspan><tspan x="700">USER_ID</tspan><tspan x="752">VARCHAR2(20)</tspan><tspan x="800">NOT NULL</tspan><tspan x="864">아이디</tspan></text>
<text class="ttl" x="778" y="715.5">신고</text>
</g>

<g id="t-addfile">
<rect class="tb" x="13" y="552" width="232" height="61"/>
<rect class="band" x="14" y="561" width="230" height="8"/>
<text class="h" x="17" y="558">파일첨부</text>
<text class="hr" x="241" y="558.5">ADDFILE</text>
<use href="#pk" x="18" y="565"/><use href="#fk" x="18" y="573.3"/>
<text class="r" y="566.8"><tspan x="28">파일번호</tspan><tspan x="58">FID</tspan><tspan x="100">NUMBER</tspan><tspan x="148">NOT NULL</tspan><tspan x="212">파일번호</tspan></text>
<text class="r" y="575.1"><tspan x="28">게시글번호</tspan><tspan x="58">BOARD_SEQ</tspan><tspan x="100">NUMBER</tspan><tspan x="148">NOT NULL</tspan><tspan x="212">게시글번호</tspan></text>
<text class="r" y="583.4"><tspan x="28">원본파일명</tspan><tspan x="58">ORIGIN_NAME</tspan><tspan x="100">VARCHAR2(300)</tspan><tspan x="148">NOT NULL</tspan><tspan x="212">원본파일명</tspan></text>
<text class="r" y="591.7"><tspan x="28">수정된파일명</tspan><tspan x="58">CHANGE_NAME</tspan><tspan x="100">VARCHAR2(300)</tspan><tspan x="148">NOT NULL</tspan><tspan x="212">수정된파일명</tspan></text>
<text class="r" y="600"><tspan x="28">파일경로</tspan><tspan x="58">FILE_PATH</tspan><tspan x="100">VARCHAR2(400)</tspan><tspan x="148">NOT NULL</tspan><tspan x="212">파일경로</tspan></text>
<text class="r" y="608.3"><tspan x="28">삭제여부</tspan><tspan x="58">STATUS</tspan><tspan x="100">VARCHAR2(1)</tspan><tspan x="148">NOT NULL</tspan><tspan x="177">'Y'</tspan><tspan x="212">삭제여부</tspan></text>
<text class="ttl" x="128" y="565.5">파일첨부</text>
</g>

<g id="t-board-report">
<rect class="tb" x="314" y="589" width="198" height="27"/>
<rect class="band" x="315" y="599" width="196" height="16.2"/>
<text class="h" x="318" y="595">자유게시판신고</text>
<text class="hr" x="508" y="595.5">BOARD_REPORT</text>
<use href="#pk" x="318" y="603"/><use href="#fk" x="318" y="611.2"/>
<text class="r" y="604.8"><tspan x="328">신고번호</tspan><tspan x="357">REPORT_NO</tspan><tspan x="393">NUMBER</tspan><tspan x="421">NOT NULL</tspan><tspan x="484">신고번호</tspan></text>
<text class="r" y="613"><tspan x="328">게시글번호</tspan><tspan x="357">BOARD_SEQ</tspan><tspan x="393">NUMBER</tspan><tspan x="421">NOT NULL</tspan><tspan x="484">게시글번호</tspan></text>
<text class="ttl" x="413" y="600.5">자유게시판신고</text>
</g>
</svg>
